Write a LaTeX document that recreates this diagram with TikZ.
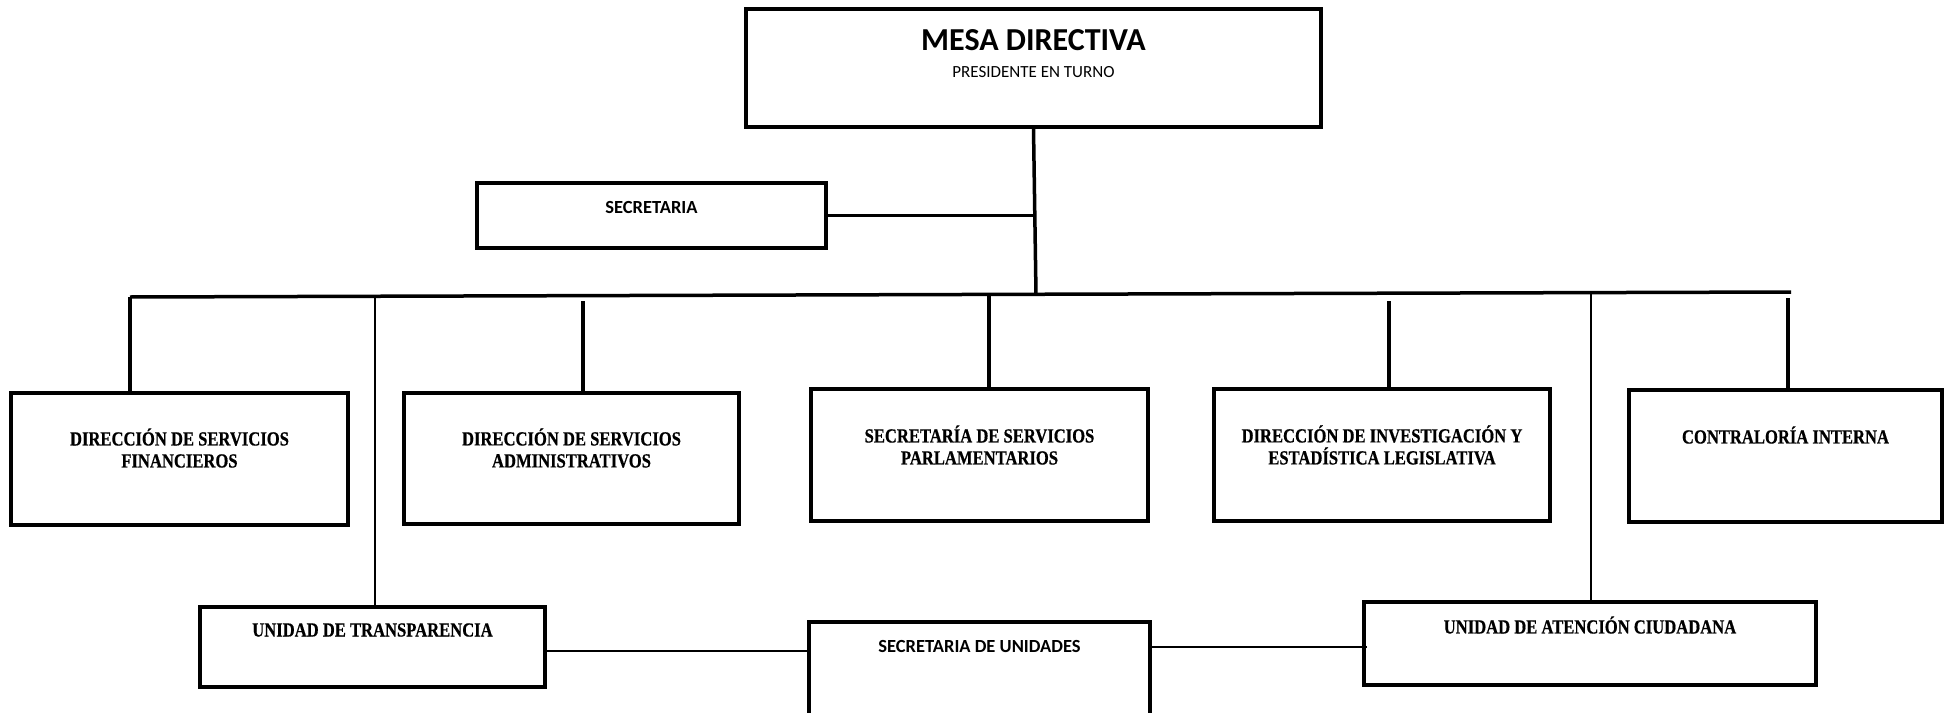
\documentclass[tikz,border=0pt]{standalone}
\usepackage{fontspec}
\usetikzlibrary{calc}
\newfontfamily\cali{Carlito}
\newfontfamily\camb[FakeStretch=0.83, BoldFeatures={FakeBold=0.6}]{Liberation Serif}

\begin{document}
\begin{tikzpicture}[x=1pt,y=-1pt]
    \tikzstyle{caja}=[draw=black, line width=3.5pt, inner sep=0pt]
    \tikzstyle{lbl}=[align=center, inner sep=0pt, font=\camb\bfseries\fontsize{20}{22}\selectfont]
    \tikzstyle{lbls}=[align=center, inner sep=0pt, font=\cali\bfseries\fontsize{18.5}{22}\selectfont]
    \tikzstyle{gruesa}=[line width=3.5pt]
    \tikzstyle{fina}=[line width=2pt]
    \useasboundingbox (0,0) rectangle (1948,712);

    % cajas
    \node[caja, minimum width=575pt, minimum height=118pt] (mesa) at (1033.5,68) {};
    \node[caja, minimum width=349pt, minimum height=65pt] (secr) at (651.5,215.5) {};
    \node[caja, minimum width=337pt, minimum height=132pt] (dsf) at (179.5,459) {};
    \node[caja, minimum width=335pt, minimum height=131pt] (dsa) at (571.5,458.5) {};
    \node[caja, minimum width=337pt, minimum height=132pt] (ssp) at (979.5,455) {};
    \node[caja, minimum width=336pt, minimum height=132pt] (diel) at (1382,455) {};
    \node[caja, minimum width=313pt, minimum height=132pt] (ci) at (1785.5,456) {};
    \node[caja, minimum width=345pt, minimum height=80pt] (ut) at (372.5,647) {};
    \node[caja, minimum width=341pt, minimum height=130pt] (su) at (979.5,687) {};
    \node[caja, minimum width=452pt, minimum height=83pt] (uac) at (1590,643.5) {};

    % textos
    \node[lbls, font=\cali\bfseries\fontsize{32}{36}\selectfont] (mesaT) at (1033.5,40) {MESA DIRECTIVA};
    \node[lbls, font=\cali\fontsize{17}{20}\selectfont] (presT) at (1033.5,72) {PRESIDENTE EN TURNO};
    \node[lbls] (secrT) at (651.5,207) {SECRETARIA};
    \node[lbl] (dsfT) at (179.5,448) {DIRECCIÓN DE SERVICIOS\\FINANCIEROS};
    \node[lbl] (dsaT) at (571.5,448) {DIRECCIÓN DE SERVICIOS\\ADMINISTRATIVOS};
    \node[lbl] (sspT) at (979.5,445) {SECRETARÍA DE SERVICIOS\\PARLAMENTARIOS};
    \node[lbl] (dielT) at (1382,445) {DIRECCIÓN DE INVESTIGACIÓN Y\\ESTADÍSTICA LEGISLATIVA};
    \node[lbl] (ciT) at (1785.5,435) {CONTRALORÍA INTERNA};
    \node[lbl] (utT) at (372.5,630) {UNIDAD DE TRANSPARENCIA};
    \node[lbls] (suT) at (979.5,646) {SECRETARIA DE UNIDADES};
    \node[lbl] (uacT) at (1590,625) {UNIDAD DE ATENCIÓN CIUDADANA};

    % puntos sobre la barra
    \coordinate (bl) at (130,297);
    \coordinate (br) at (1791,292);
    \coordinate (j) at (1036,294.3);
    \coordinate (d2) at (583,301);
    \coordinate (d3) at (989,294.4);
    \coordinate (d4) at (1389,301);
    \coordinate (d5) at (1788,298);
    \coordinate (tA) at (375,296.3);
    \coordinate (tB) at (1591,292.2);

    \draw[gruesa] (mesa.south) -- (j);
    \draw[gruesa] (secr.east) -- (secr.east -| mesa.south);
    \draw[gruesa] (bl) -- (br);
    \draw[gruesa] (bl) -- (bl |- dsf.north);
    \draw[gruesa] (d2) -- (d2 |- dsa.north);
    \draw[gruesa] (d3) -- (d3 |- ssp.north);
    \draw[gruesa] (d4) -- (d4 |- diel.north);
    \draw[gruesa] (d5) -- (d5 |- ci.north);

    \draw[line width=1.5pt] (tA) -- (tA |- ut.north);
    \draw[line width=1.5pt] (tB) -- (tB |- uac.north);
    \draw[fina] (ut.east |- 0,651) -- (su.west |- 0,651);
    \draw[fina] (su.east |- 0,647) -- ($(uac.west |- 0,647)+(5,0)$);
\end{tikzpicture}
\end{document}
